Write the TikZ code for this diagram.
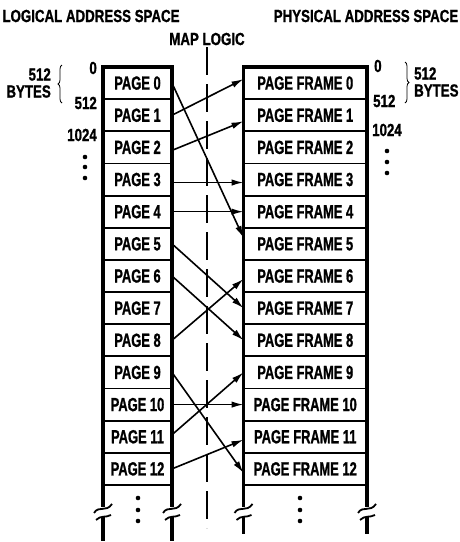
\documentclass[tikz,border=0pt]{standalone}
\usepackage{fontspec}
\setmainfont{Liberation Sans}[FakeStretch=0.68, BoldFeatures={FakeBold=1}]
\newfontfamily\hdfont{Liberation Sans}[FakeStretch=0.76, BoldFeatures={FakeBold=1}]
\usepackage{tikz}
\usetikzlibrary{arrows.meta,positioning,decorations.pathreplacing}
\newlength{\rowh}
\setlength{\rowh}{32.15pt}

\begin{document}
\begin{tikzpicture}[x=1pt,y=-1pt,
  every node/.style={font=\hdfont\fontsize{17.5}{17}\selectfont\bfseries, inner sep=0pt},
  pagebox/.style={draw, line width=1.8pt, outer sep=0pt, minimum width=69pt, minimum height=\rowh,
    font=\rmfamily\fontsize{19}{19}\selectfont\bfseries},
  framebox/.style={pagebox, minimum width=123.5pt},
  colline/.style={line width=3.2pt},
  brk/.style={line width=1.8pt},
  mapline/.style={line width=2.8pt, dash pattern=on 28pt off 9pt},
  maparrow/.style={line width=1.6pt, -{Latex[length=12pt,width=6.5pt]}},
  bytebrace/.style={decorate, decoration={brace,amplitude=4pt}, line width=0.8pt}]

\useasboundingbox (0,0) rectangle (460,542);

% headings
\node (lhead) at (91,16) {LOGICAL ADDRESS SPACE};
\node (phead) at (366,16) {PHYSICAL ADDRESS SPACE};
\node (maplbl) at (207,39) {MAP LOGIC};

% the two address spaces
\foreach \i in {0,...,12} {
  \node[pagebox] (p\i) at (137.5,{67+32.15*(\i+0.5)}) {PAGE \i};
  \node[framebox] (f\i) at (305.25,{67+32.15*(\i+0.5)}) {PAGE FRAME \i};
}
\draw[colline] (p12.south west) -- (p0.north west) -- (p0.north east) -- (p12.south east);
\draw[colline] (f12.south west) -- (f0.north west) -- (f0.north east) -- (f12.south east);

% broken column ends
\foreach \c/\e in {p12.south west/56, p12.south east/56, f12.south west/49, f12.south east/49} {
  \begin{scope}[shift={(\c)}]
    \draw[colline] (0,0) -- (0,22);
    \draw[brk] (-9,28) .. controls (-4,20) and (3,28) .. (9,19);
    \draw[brk] (-7,35) .. controls (-2,30) and (3,33) .. (8,30);
    \draw[colline] (0,32) -- (0,\e);
  \end{scope}
}
\foreach \y in {498,510,521} {
  \fill (138,\y) circle (2.3);
  \fill (300,\y) circle (2.3);
}

% addresses
\node[anchor=east] (la0) at (97,68) {0};
\node[anchor=east] (la512) at (97,103) {512};
\node[anchor=east] (la1024) at (97,135) {1024};
\node[anchor=east, align=right] (lbytes) at (51,83) {512\\BYTES};
\draw[bytebrace] (62,103) -- (62,65);
\foreach \y in {157,167,178} \fill (85,\y) circle (2.3);

\node[anchor=west] (ra0) at (374,66) {0};
\node[anchor=west] (ra512) at (373,101) {512};
\node[anchor=west] (ra1024) at (372,130) {1024};
\node[anchor=west, align=left] (rbytes) at (414,82) {512\\BYTES};
\draw[bytebrace] (405,62) -- (405,103);
\foreach \y in {151,162,173} \fill (387,\y) circle (2.3);

% map logic
\draw[mapline] (207,47) -- (207,528);

\draw[maparrow] (p0.east) -- ([yshift=6pt]f5.west);
\draw[maparrow] (p1.east) -- ([yshift=4pt]f0.west);
\draw[maparrow] ([yshift=-3pt]p2.east) -- ([yshift=-6pt]f1.west);
\draw[maparrow] ([yshift=-3pt]p3.east) -- ([yshift=-3pt]f3.west);
\draw[maparrow] (p4.east) -- (f4.west);
\draw[maparrow] (p5.east) -- (f7.west);
\draw[maparrow] (p6.east) -- (f8.west);
\draw[maparrow] (p8.east) -- ([yshift=-3pt]f6.west);
\draw[maparrow] (p9.east) -- ([yshift=-4pt]f12.west);
\draw[maparrow] (p10.east) -- (f10.west);
\draw[maparrow] ([yshift=2pt]p11.east) -- (f9.west);
\draw[maparrow] (p12.east) -- ([yshift=-3pt]f11.west);
\end{tikzpicture}
\end{document}
